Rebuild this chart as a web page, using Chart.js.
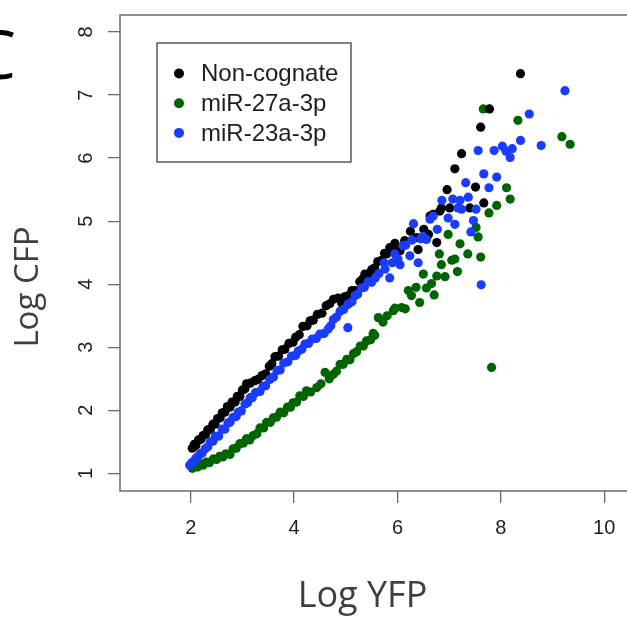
<!DOCTYPE html>
<html>
<head>
<meta charset="utf-8">
<script src="https://cdn.jsdelivr.net/npm/chart.js@4.4.1/dist/chart.umd.min.js"></script>
<style>
html,body{margin:0;padding:0;background:#fff;overflow:hidden;width:627px;height:622px;}
canvas{display:block;}
</style>
</head>
<body>
<canvas id="c" width="650" height="622"></canvas>
<script>
const seriesLabels = ["Non-cognate", "miR-27a-3p", "miR-23a-3p"];
const seriesColors = ["#000000", "#006400", "#1a3cff"];
const xTicks = [2, 4, 6, 8, 10];
const yTicks = [1, 2, 3, 4, 5, 6, 7, 8];
const xTitle = "Log YFP";
const yTitle = "Log CFP";
const panelLetter = "C";

const nonCognate = [
[2.03,1.40],[2.07,1.46],[2.10,1.44],[2.15,1.53],[2.20,1.54],[2.24,1.60],[2.29,1.62],[2.33,1.69],
[2.38,1.70],[2.43,1.78],[2.47,1.78],[2.52,1.87],[2.57,1.88],[2.61,1.96],[2.66,1.97],[2.71,2.06],
[2.76,2.05],[2.80,2.13],[2.86,2.13],[2.90,2.22],[2.95,2.22],[3.00,2.32],[3.05,2.34],[3.08,2.42],
[3.15,2.43],[3.24,2.47],[3.30,2.49],[3.38,2.55],[3.45,2.58],[3.52,2.70],[3.57,2.74],[3.63,2.85],
[3.70,2.86],[3.77,2.96],[3.82,2.97],[3.90,3.06],[3.98,3.08],[4.03,3.16],[4.10,3.20],[4.17,3.33],
[4.25,3.34],[4.31,3.42],[4.37,3.43],[4.45,3.52],[4.54,3.54],[4.62,3.66],[4.69,3.69],[4.76,3.76],
[4.85,3.78],[4.92,3.70],[4.98,3.80],[5.05,3.82],[5.12,3.90],[5.18,3.90],[5.27,4.04],[5.32,4.08],
[5.37,4.16],[5.44,4.16],[5.50,4.23],[5.56,4.26],[5.62,4.36],[5.69,4.38],[5.75,4.49],[5.79,4.48],
[5.85,4.58],[5.92,4.59],[5.95,4.65],[6.05,4.53],[6.14,4.69],[6.25,4.84],[6.37,4.74],[6.40,4.55],
[6.51,4.87],[6.60,4.79],[6.63,5.08],[6.69,5.11],[6.76,4.66],[6.82,5.16],[6.85,5.21],[6.96,5.50],
[7.01,5.21],[7.11,5.83],[7.24,6.07],[7.40,5.21],[7.51,5.54],[7.61,6.49],[7.67,5.29],[7.78,6.78],
[8.38,7.34]
];

const mir27a = [
[2.03,1.08],[2.08,1.11],[2.13,1.10],[2.18,1.15],[2.24,1.13],[2.30,1.18],[2.36,1.17],[2.44,1.23],
[2.50,1.22],[2.56,1.27],[2.62,1.26],[2.68,1.31],[2.76,1.30],[2.82,1.39],[2.88,1.40],[2.95,1.47],
[3.02,1.48],[3.08,1.55],[3.14,1.53],[3.21,1.60],[3.28,1.63],[3.34,1.72],[3.41,1.72],[3.47,1.81],
[3.54,1.81],[3.60,1.88],[3.66,1.89],[3.73,1.97],[3.80,1.96],[3.87,2.05],[3.93,2.05],[3.98,2.12],
[4.05,2.13],[4.11,2.23],[4.18,2.22],[4.24,2.31],[4.32,2.29],[4.44,2.36],[4.52,2.42],[4.60,2.60],
[4.68,2.50],[4.76,2.57],[4.82,2.62],[4.89,2.73],[4.95,2.73],[5.02,2.81],[5.08,2.80],[5.15,2.90],
[5.21,2.93],[5.28,3.02],[5.34,3.02],[5.40,3.10],[5.48,3.12],[5.53,3.22],[5.56,3.19],[5.63,3.47],
[5.72,3.40],[5.80,3.50],[5.92,3.58],[5.95,3.62],[6.08,3.63],[6.15,3.61],[6.21,3.90],[6.27,3.82],
[6.36,3.95],[6.43,3.71],[6.50,4.16],[6.56,3.94],[6.66,4.01],[6.71,3.83],[6.76,4.13],[6.81,4.48],
[6.85,4.31],[6.92,4.12],[6.98,4.79],[7.05,4.38],[7.11,4.40],[7.16,4.20],[7.21,4.64],[7.36,4.48],
[7.52,4.90],[7.56,4.75],[7.61,4.43],[7.66,6.78],[7.77,5.13],[7.82,2.68],[7.92,5.25],[8.11,5.53],
[8.18,5.35],[8.33,6.60],[9.18,6.34],[9.34,6.22]
];

const mir23a = [
[1.98,1.13],[2.02,1.17],[2.06,1.19],[2.10,1.24],[2.14,1.26],[2.18,1.31],[2.22,1.32],[2.28,1.39],
[2.33,1.42],[2.38,1.50],[2.43,1.51],[2.48,1.59],[2.54,1.59],[2.61,1.70],[2.66,1.70],[2.72,1.80],
[2.76,1.81],[2.82,1.89],[2.88,1.90],[2.92,1.97],[2.98,1.99],[3.05,2.10],[3.10,2.12],[3.15,2.20],
[3.19,2.20],[3.25,2.28],[3.34,2.30],[3.40,2.38],[3.45,2.39],[3.53,2.49],[3.60,2.53],[3.67,2.63],
[3.73,2.64],[3.80,2.75],[3.88,2.77],[3.95,2.86],[4.03,2.87],[4.08,2.94],[4.15,2.97],[4.21,3.05],
[4.28,3.06],[4.35,3.13],[4.43,3.14],[4.50,3.21],[4.58,3.22],[4.66,3.29],[4.71,3.34],[4.76,3.44],
[4.82,3.48],[4.89,3.57],[4.96,3.60],[5.04,3.68],[5.04,3.31],[5.12,3.72],[5.18,3.82],[5.23,3.84],
[5.30,3.94],[5.36,3.95],[5.43,4.04],[5.50,4.03],[5.57,4.10],[5.64,4.17],[5.74,4.34],[5.76,4.24],
[5.85,4.10],[5.90,4.34],[5.95,4.48],[6.01,4.40],[6.05,4.31],[6.11,4.61],[6.16,4.62],[6.24,4.45],
[6.28,4.70],[6.31,4.96],[6.40,4.34],[6.45,4.72],[6.49,4.76],[6.56,4.71],[6.63,5.03],[6.69,5.08],
[6.77,4.87],[6.86,5.33],[6.98,5.05],[7.07,5.35],[7.11,4.95],[7.17,5.21],[7.21,5.33],[7.24,5.19],
[7.32,5.61],[7.37,5.38],[7.42,4.83],[7.47,5.01],[7.52,5.19],[7.56,6.12],[7.62,3.99],[7.67,5.75],
[7.77,5.53],[7.87,6.12],[7.92,5.70],[8.03,6.19],[8.10,6.11],[8.18,6.01],[8.22,6.15],[8.38,6.28],
[8.55,6.70],[8.78,6.20],[9.24,7.07]
];

const toPts = arr => arr.map(p => ({x: p[0], y: p[1]}));
const seriesData = [nonCognate, mir27a, mir23a];
const drawOrder = [1, 2, 0];

const BOX = {left: 120, top: 13, bottom: 491};
const AXIS_COLOR = "#6b6b6b";
const TEXT_COLOR = "#1e1e1e";

const decorPlugin = {
  id: "decor",
  afterDraw(chart) {
    const ctx = chart.ctx;
    const a = chart.chartArea;
    const ys = chart.scales.y;
    ctx.save();
    ctx.strokeStyle = AXIS_COLOR;
    ctx.lineWidth = 1.5;
    ctx.strokeRect(a.left, a.top, a.right - a.left, a.bottom - a.top);
    ctx.fillStyle = TEXT_COLOR;
    ctx.font = "20px 'Liberation Sans', Arial, sans-serif";
    ctx.textAlign = "center";
    ctx.textBaseline = "middle";
    ys.ticks.forEach(t => {
      const py = ys.getPixelForValue(t.value);
      ctx.save();
      ctx.translate(85, py);
      ctx.rotate(-Math.PI / 2);
      ctx.fillText(String(t.value), 0, 1);
      ctx.restore();
    });
    const lx = 157, ly = 43, lw = 194, lh = 119;
    ctx.strokeStyle = "#5a5a5a";
    ctx.lineWidth = 1.5;
    ctx.fillStyle = "#fff";
    ctx.fillRect(lx, ly, lw, lh);
    ctx.strokeRect(lx, ly, lw, lh);
    ctx.font = "24px 'Liberation Sans', Arial, sans-serif";
    ctx.textAlign = "left";
    ctx.textBaseline = "middle";
    chart.data.datasets.forEach((ds, i) => {
      const cy = 73.5 + i * 29.7;
      ctx.fillStyle = ds.backgroundColor;
      ctx.beginPath();
      ctx.arc(179, cy, 5, 0, Math.PI * 2);
      ctx.fill();
      ctx.fillStyle = TEXT_COLOR;
      ctx.fillText(ds.label, 201, cy + 1);
    });
    ctx.fillStyle = "#3f3f3f";
    ctx.font = "36px 'Open Sans', 'Noto Sans', sans-serif";
    ctx.textAlign = "center";
    ctx.textBaseline = "alphabetic";
    ctx.fillText(xTitle, 362.5, 607);
    ctx.save();
    ctx.translate(37.5, 287);
    ctx.rotate(-Math.PI / 2);
    ctx.font = "33px 'Open Sans', 'Noto Sans', sans-serif";
    ctx.fillText(yTitle, 0, 0);
    ctx.restore();
    ctx.fillStyle = "#000";
    ctx.font = "68px 'Open Sans', 'Noto Sans', sans-serif";
    ctx.textAlign = "right";
    ctx.fillText(panelLetter, 16, 79);
    ctx.restore();
  }
};

new Chart(document.getElementById("c"), {
  type: "scatter",
  data: {
    datasets: seriesData.map((d, i) => ({
      label: seriesLabels[i],
      data: toPts(d),
      backgroundColor: seriesColors[i],
      borderColor: seriesColors[i],
      borderWidth: 0,
      pointRadius: 4.6,
      pointHoverRadius: 4.6,
      order: drawOrder[i]
    }))
  },
  options: {
    responsive: false,
    animation: false,
    devicePixelRatio: 1,
    layout: {padding: {left: 0, top: BOX.top, right: 7, bottom: 0}},
    plugins: {legend: {display: false}, tooltip: {enabled: false}},
    scales: {
      x: {
        type: "linear",
        min: 0.632,
        max: 10.75,
        afterBuildTicks: s => { s.ticks = xTicks.map(v => ({value: v})); },
        afterFit: s => { s.height = 622 - BOX.bottom; },
        grid: {drawOnChartArea: false, drawTicks: true, tickLength: 12, color: AXIS_COLOR, lineWidth: 1.3},
        border: {display: false},
        ticks: {color: TEXT_COLOR, font: {family: "'Liberation Sans', Arial, sans-serif", size: 20}, padding: 13, maxRotation: 0, minRotation: 0}
      },
      y: {
        type: "linear",
        min: 0.72,
        max: 8.27,
        afterBuildTicks: s => { s.ticks = yTicks.map(v => ({value: v})); },
        afterFit: s => { s.width = BOX.left; },
        grid: {drawOnChartArea: false, drawTicks: true, tickLength: 12, color: AXIS_COLOR, lineWidth: 1.3},
        border: {display: false},
        ticks: {color: "rgba(0,0,0,0)", font: {size: 20}}
      }
    }
  },
  plugins: [decorPlugin]
});
</script>
</body>
</html>
